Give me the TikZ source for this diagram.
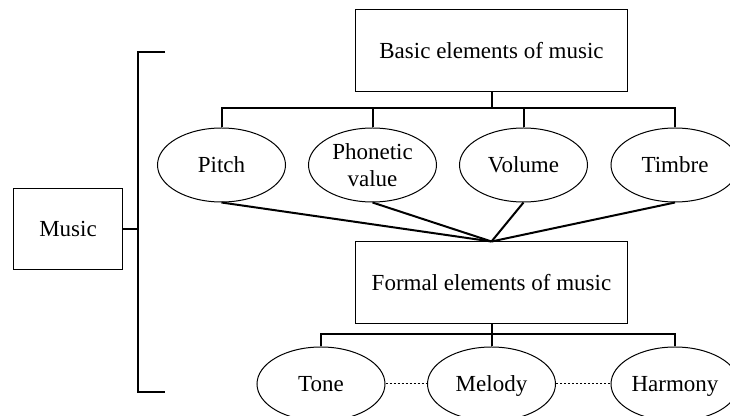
\documentclass[tikz,border=0pt]{standalone}
\usepackage{fontspec}
\setmainfont{Liberation Serif}
\usetikzlibrary{shapes.geometric}

\begin{document}
\begin{tikzpicture}[x=0.5pt, y=-0.5pt,
  box/.style={rectangle, draw, line width=0.5pt, minimum width=136pt, minimum height=41pt, inner sep=0pt, font=\fontsize{11.5}{13.5}\selectfont},
  oval/.style={ellipse, draw, line width=0.5pt, minimum width=64pt, minimum height=37pt, inner sep=0pt, font=\fontsize{11.5}{13.5}\selectfont},
  onerow/.style={oval, text height=10pt, text depth=2.5pt},
  busline/.style={line width=1pt},
  dotline/.style={line width=0.5pt, dash pattern=on 1.2pt off 0.8pt}
]
\clip (0,0) rectangle (730,416);
% Boxes
\node[box] (basic)  at (491.5, 51) {Basic elements of music};
\node[box] (formal) at (491.5, 283) {Formal elements of music};
\node[box, minimum width=54.5pt, minimum height=40.5pt] (music) at (68, 229) {Music};
% Basic elements
\node[onerow] (pitch)    at (221.5, 165) {Pitch};
\node[oval, align=center] (phonetic) at (372.5, 165) {Phonetic\\value};
\node[onerow] (volume)   at (523.5, 165) {Volume};
\node[onerow] (timbre)   at (675, 165) {Timbre};
% Formal elements
\node[onerow] (tone)    at (321, 384) {Tone};
\node[onerow] (melody)  at (491.5, 384) {Melody};
\node[onerow] (harmony) at (675, 384) {Harmony};
% Bus coordinates
\coordinate (bustop) at (491.5, 108);
\coordinate (busbot) at (491.5, 334);
% Bracket
\coordinate (brtop) at (165, 52);
\coordinate (brtl)  at (138, 52);
\coordinate (brbl)  at (138, 392);
\coordinate (brbot) at (165, 392);
\draw[busline] (brtop) -- (brtl) -- (brbl) -- (brbot);
\draw[busline] (music.east) -- (music.east -| brtl);
% Top tree
\draw[busline] (basic.south) -- (bustop);
\draw[busline] (pitch.north) -- (pitch.north |- bustop) -- (timbre.north |- bustop) -- (timbre.north);
\draw[busline] (phonetic.north) -- (phonetic.north |- bustop);
\draw[busline] (volume.north) -- (volume.north |- bustop);
% Converging lines
\foreach \n in {pitch, phonetic, volume, timbre}
  \draw[busline] (\n.south) -- (formal.north);
% Bottom tree
\draw[busline] (formal.south) -- (busbot);
\draw[busline] (tone.north) -- (tone.north |- busbot) -- (harmony.north |- busbot) -- (harmony.north);
\draw[busline] (melody.north) -- (melody.north |- busbot);
% Dotted links
\draw[dotline] (tone.east) -- (melody.west);
\draw[dotline] (melody.east) -- (harmony.west);
\end{tikzpicture}
\end{document}
